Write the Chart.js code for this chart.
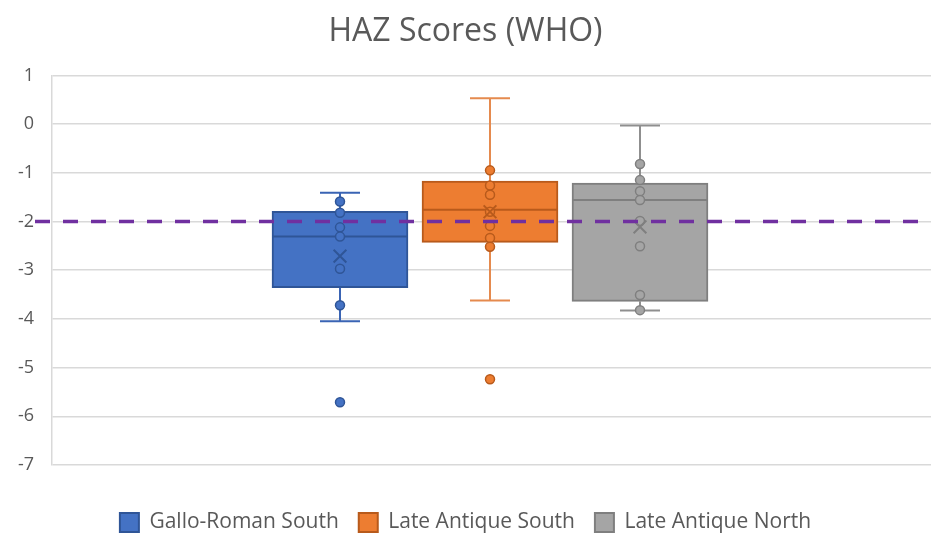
<!DOCTYPE html>
<html>
<head>
<meta charset="utf-8">
<script src="https://cdn.jsdelivr.net/npm/chart.js@4.4.1/dist/chart.umd.min.js"></script>
<style>
  html, body { margin: 0; padding: 0; background: #ffffff; }
  #wrap { width: 931px; height: 535px; }
</style>
</head>
<body>
<div id="wrap"><canvas id="grafico"></canvas></div>
<script>
// --- Dados ---
const groups = ["Gallo-Roman South", "Late Antique South", "Late Antique North"];
const whiskerLow = [-4.05, -3.62, -3.83];
const q1 = [-3.36, -2.43, -3.64];
const median = [-2.31, -1.76, -1.56];
const q3 = [-1.79, -1.17, -1.21];
const whiskerHigh = [-1.41, 0.53, -0.03];
const means = [-2.71, -1.8, -2.11];
const pointsGalloSouth = [-1.59, -1.82, -2.12, -2.31, -2.97, -3.72, -5.71];
const pointsLateSouth = [-0.95, -1.26, -1.45, -1.8, -2.09, -2.34, -2.52, -5.24];
const pointsLateNorth = [-0.82, -1.15, -1.38, -1.56, -1.99, -2.51, -3.51, -3.82];
const groupPoints = [pointsGalloSouth, pointsLateSouth, pointsLateNorth];
const refLine = -2;
const yTicks = [1, 0, -1, -2, -3, -4, -5, -6, -7];

// --- Estilo ---
const fills = ["#4472C4", "#ED7D31", "#A5A5A5"];
const borders = ["#2F5597", "#B85A1B", "#7F7F7F"];
const whiskerColors = ["#3A64B4", "#E58A4E", "#8F8F8F"];
const textColor = "#595959";
const fontFamily = "'Open Sans', 'DejaVu Sans', sans-serif";

const datasets = [];

// caixas (Q1 - Q3)
groups.forEach((g, i) => {
  datasets.push({
    type: "bar",
    label: g,
    data: [{ x: i + 1, y: [q1[i], q3[i]] }],
    backgroundColor: fills[i],
    borderColor: borders[i],
    borderWidth: 2,
    borderSkipped: false,
    barThickness: 136,
    grouped: false,
    order: 3,
    boxIndex: i,
  });
});

// pontos
groupPoints.forEach((pts, i) => {
  datasets.push({
    type: "scatter",
    label: "_pts" + i,
    data: pts.map((v) => ({ x: i + 1, y: v })),
    pointRadius: 4.5,
    pointHoverRadius: 4.5,
    pointBackgroundColor: fills[i],
    pointBorderColor: borders[i],
    pointBorderWidth: 1.5,
    order: 2,
  });
});

// médias (X)
groups.forEach((g, i) => {
  datasets.push({
    type: "scatter",
    label: "_mean" + i,
    data: [{ x: i + 1, y: means[i] }],
    pointStyle: "crossRot",
    pointRadius: 9,
    pointBorderColor: borders[i],
    pointBorderWidth: 2,
    order: 1,
  });
});

// bigodes e mediana, desenhados logo depois de cada caixa
const boxExtras = {
  id: "boxExtras",
  afterDatasetDraw(chart, args) {
    const ds = chart.data.datasets[args.index];
    if (ds.boxIndex === undefined) return;
    const i = ds.boxIndex;
    const x = chart.scales.x;
    const y = chart.scales.y;
    const cx = x.getPixelForValue(i + 1);
    const half = 68;
    const cap = 20;
    const c = chart.ctx;
    c.save();
    c.lineCap = "butt";
    // mediana
    c.strokeStyle = borders[i];
    c.lineWidth = 2;
    c.beginPath();
    c.moveTo(cx - half, y.getPixelForValue(median[i]));
    c.lineTo(cx + half, y.getPixelForValue(median[i]));
    c.stroke();
    // bigodes
    c.strokeStyle = whiskerColors[i];
    c.beginPath();
    c.moveTo(cx, y.getPixelForValue(q1[i]));
    c.lineTo(cx, y.getPixelForValue(whiskerLow[i]));
    c.moveTo(cx - cap, y.getPixelForValue(whiskerLow[i]));
    c.lineTo(cx + cap, y.getPixelForValue(whiskerLow[i]));
    c.moveTo(cx, y.getPixelForValue(q3[i]));
    c.lineTo(cx, y.getPixelForValue(whiskerHigh[i]));
    c.moveTo(cx - cap, y.getPixelForValue(whiskerHigh[i]));
    c.lineTo(cx + cap, y.getPixelForValue(whiskerHigh[i]));
    c.stroke();
    c.restore();
  },
  afterDatasetsDraw(chart) {
    // linha de referência -2
    const y = chart.scales.y;
    const py = y.getPixelForValue(refLine);
    const c = chart.ctx;
    c.save();
    c.strokeStyle = "#7030A0";
    c.lineWidth = 3.5;
    c.setLineDash([15, 13]);
    c.beginPath();
    c.moveTo(35, py);
    c.lineTo(chart.width, py);
    c.stroke();
    c.restore();
  },
};

new Chart(document.getElementById("grafico").getContext("2d"), {
  type: "bar",
  data: { datasets: datasets },
  plugins: [boxExtras],
  options: {
    responsive: true,
    maintainAspectRatio: false,
    animation: false,
    layout: { autoPadding: false, padding: { top: 6, right: 0, bottom: -8, left: 0 } },
    plugins: {
      title: {
        display: true,
        text: "HAZ Scores (WHO)",
        color: textColor,
        font: { family: fontFamily, size: 32, weight: "normal" },
        padding: { top: 7, bottom: 24 },
      },
      legend: {
        position: "bottom",
        title: { display: true, text: "", font: { size: 10 }, padding: { top: 15, bottom: 0 } },
        labels: {
          color: textColor,
          font: { family: fontFamily, size: 21 },
          boxWidth: 19,
          boxHeight: 19,
          padding: 20,
          filter: (item) => groups.includes(item.text),
        },
      },
      tooltip: { enabled: false },
    },
    scales: {
      x: {
        type: "linear",
        display: false,
        min: -0.92,
        max: 4.94,
        offset: false,
      },
      y: {
        min: -7,
        max: 1,
        afterBuildTicks: (s) => {
          s.ticks = yTicks.map((v) => ({ value: v }));
        },
        afterFit: (s) => {
          s.width = 52;
        },
        grid: { color: "#D9D9D9", lineWidth: 1.5, drawTicks: false },
        border: { color: "#D9D9D9", width: 1.5 },
        ticks: {
          color: textColor,
          font: { family: fontFamily, size: 18 },
          padding: 18,
        },
      },
    },
  },
});
</script>
</body>
</html>
